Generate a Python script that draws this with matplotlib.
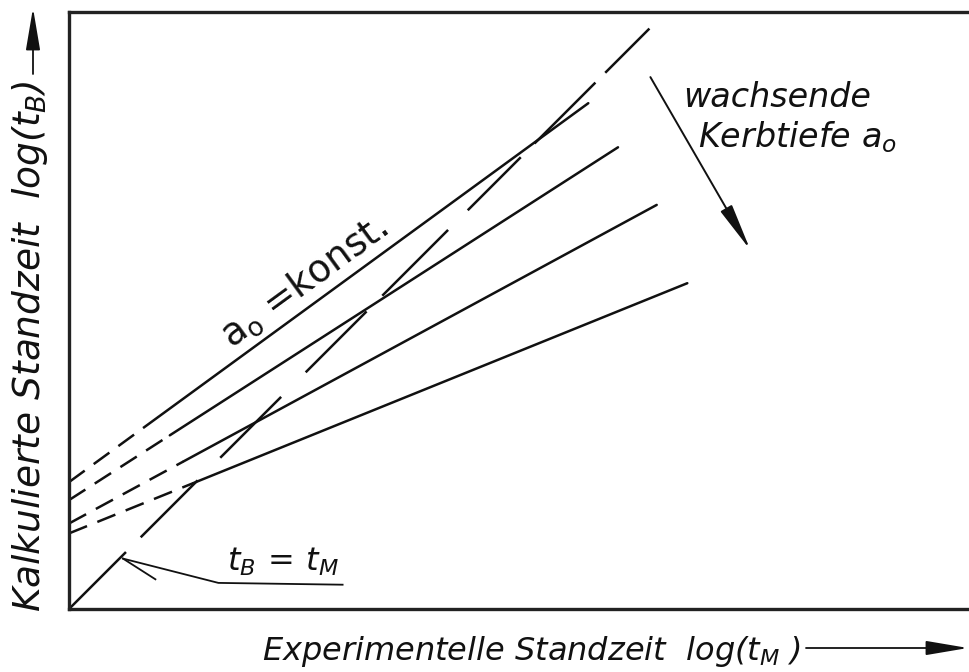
import numpy as np
import matplotlib.pyplot as plt

plt.rcParams['font.family'] = ['DejaVu Sans']
plt.rcParams['mathtext.fontset'] = 'dejavusans'
plt.rcParams['lines.scale_dashes'] = False

# a0 = konst. lines: value on the y axis, start of the solid part, end point
y_start = [1.41, 1.21, 0.95, 0.84]
x_solid = [1.00, 1.12, 1.27, 1.38]
x_end = [5.77, 6.10, 6.53, 6.87]
y_end = [5.62, 5.13, 4.49, 3.62]

# t_B = t_M diagonal
diag_end = 6.57

# leader from the diagonal to the t_B = t_M label
leader_x = [0.60, 1.66, 3.04]
leader_y = [0.56, 0.29, 0.27]
barb_x = [0.60, 0.96]
barb_y = [0.56, 0.33]

# "wachsende Kerbtiefe" arrow
trend_from = (6.46, 5.91)
trend_to = (7.57, 3.99)

ink = '#111111'
lw = 1.8

fig = plt.figure(figsize=(9.69, 6.72), dpi=100)
ax = fig.add_axes([69 / 969, 63 / 672, 900 / 969, 597 / 672])
ax.set_xlim(0, 10)
ax.set_ylim(0, 597 / 90)
ax.set_xticks([])
ax.set_yticks([])
for side in ['left', 'top', 'bottom']:
    ax.spines[side].set_linewidth(2.4)
    ax.spines[side].set_color('#222222')
ax.spines['right'].set_visible(False)

for y0, xs, xe, ye in zip(y_start, x_solid, x_end, y_end):
    slope = (ye - y0) / xe
    ys = y0 + slope * xs
    ax.plot([0, xs], [y0, ys], color=ink, lw=lw, ls=(0, (14, 8)))
    ax.plot([xs, xe], [ys, ye], color=ink, lw=lw, solid_capstyle='round')

ax.plot([0, diag_end], [0, diag_end], color=ink, lw=lw,
        ls=(0, (58, 15, 58, 23, 62, 25, 62, 16, 67, 20, 54, 14, 62, 10, 45, 60)))

ax.plot(leader_x, leader_y, color=ink, lw=1.3)
ax.plot(barb_x, barb_y, color=ink, lw=1.3)
ax.text(1.76, 0.43, r'$t_B\,=\,t_M$', fontsize=23, color=ink)

ax.text(1.80, 2.90, r'a$_{\rm o}$ =konst.', fontsize=27, color=ink,
        rotation=np.degrees(np.arctan((y_end[0] - y_start[0]) / x_end[0])),
        rotation_mode='anchor', ha='left', va='baseline')

ax.annotate('', xy=trend_to, xytext=trend_from,
            arrowprops=dict(arrowstyle='-|>,head_length=1.45,head_width=0.2',
                            mutation_scale=20, color=ink, lw=1.4,
                            shrinkA=0, shrinkB=0))
ax.text(6.82, 5.58, 'wachsende', fontsize=24, style='italic', color=ink)
ax.text(6.99, 5.13, r'Kerbtiefe $a_o$', fontsize=24, style='italic', color=ink)

# axis titles with arrows
fig.text(262 / 969, 12 / 672, r'Experimentelle Standzeit  log($t_M$ )',
         fontsize=23, style='italic', color=ink, va='baseline')
fig.text(40 / 969, 60 / 672, r'Kalkulierte Standzeit  log($t_B$)',
         fontsize=27, style='italic', color=ink, rotation=90,
         rotation_mode='anchor', ha='left', va='baseline')

fig.patches.append(plt.matplotlib.patches.FancyArrowPatch(
    (806 / 969, 24 / 672), (968 / 969, 24 / 672), transform=fig.transFigure,
    arrowstyle='-|>,head_length=1.3,head_width=0.22', mutation_scale=20,
    color=ink, lw=1.3, shrinkA=0, shrinkB=0))
fig.patches.append(plt.matplotlib.patches.FancyArrowPatch(
    (33 / 969, 598 / 672), (33 / 969, 664 / 672), transform=fig.transFigure,
    arrowstyle='-|>,head_length=1.3,head_width=0.22', mutation_scale=20,
    color=ink, lw=1.3, shrinkA=0, shrinkB=0))

fig.savefig('out.png', dpi=100)
